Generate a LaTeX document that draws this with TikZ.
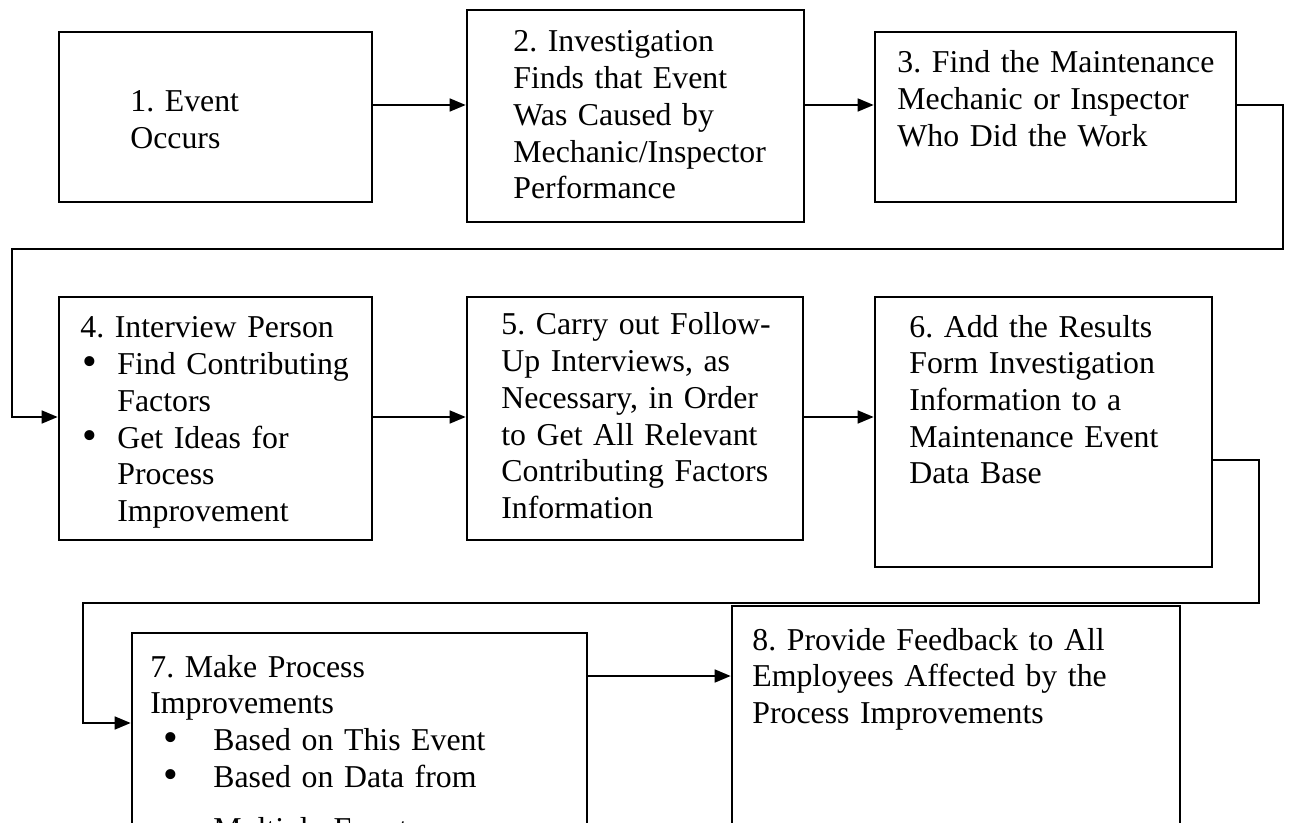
\documentclass[tikz,border=0pt]{standalone}
\usepackage{fontspec}
\setmainfont{Liberation Serif}
\usetikzlibrary{arrows.meta,fit}

\tikzset{
  box/.style={draw,line width=1.35pt,inner sep=0pt},
  txt/.style={anchor=base west,inner sep=0pt,align=left,text width=260pt,
              font=\fontsize{15.9}{18.35}\selectfont\frenchspacing},
  link/.style={line width=0.85pt,-{Triangle[length=8pt,width=6.5pt]}}
}
% bullet line (indent, bullet width) and its continuation
\newcommand{\bitem}[2]{\hspace*{#1}\makebox[#2][l]{\raisebox{-0.6pt}{\fontsize{21}{18}\selectfont\textbullet}}}
\newcommand{\bcont}[1]{\hspace*{#1}}

\begin{document}
\begin{tikzpicture}[x=0.5pt,y=-0.5pt]
  \useasboundingbox (0,0) rectangle (1289,823);
  % Row 1
  \node[box,fit={(59,32) (372,202)}] (b1) {};
  \node[txt] (t1) at (130,112) {1. Event\\Occurs};
  \node[box,fit={(467,10) (804,222)}] (b2) {};
  \node[txt] (t2) at (513,52) {2. Investigation\\Finds that Event\\Was Caused by\\Mechanic/Inspector\\Performance};
  \node[box,fit={(875,32) (1236,202)}] (b3) {};
  \node[txt] (t3) at (897,73) {3. Find the Maintenance\\Mechanic or Inspector\\Who Did the Work};
  % Row 2
  \node[box,fit={(59,297) (372,540)}] (b4) {};
  \node[txt] (t4) at (80,338) {4. Interview Person\\
    \bitem{1pt}{17.5pt}Find Contributing\\ \bcont{18.5pt}Factors\\
    \bitem{1pt}{17.5pt}Get Ideas for\\ \bcont{18.5pt}Process\\ \bcont{18.5pt}Improvement};
  \node[box,fit={(467,297) (803,540)}] (b5) {};
  \node[txt] (t5) at (501,335) {5. Carry out Follow-\\Up Interviews, as\\Necessary, in Order\\to Get All Relevant\\Contributing Factors\\Information};
  \node[box,fit={(875,297) (1212,567)}] (b6) {};
  \node[txt] (t6) at (909,337) {6. Add the Results\\Form Investigation\\Information to a\\Maintenance Event\\Data Base};
  % Row 3
  \node[box,fit={(132,633) (587,860)}] (b7) {};
  \node[txt] (t7) at (150,677) {7. Make Process\\Improvements\\
    \bitem{6.5pt}{25pt}Based on This Event\\
    \bitem{6.5pt}{25pt}Based on Data from\\[8pt] \bcont{31.5pt}Multiple Events};
  \node[box,fit={(732,606) (1180,860)}] (b8) {};
  \node[txt] (t8) at (752,650) {8. Provide Feedback to All\\Employees Affected by the\\Process Improvements};
  % links
  \coordinate (r1) at (0,105);
  \coordinate (r2) at (0,417);
  \coordinate (r3) at (0,676);
  \coordinate (c1) at (1283,249);
  \coordinate (c2) at (12,249);
  \coordinate (c3) at (1259,603);
  \coordinate (c4) at (83,603);
  \coordinate (e6) at (0,460);
  \coordinate (e7) at (0,723);
  \draw[link] (b1.east |- r1) -- (b2.west |- r1);
  \draw[link] (b2.east |- r1) -- (b3.west |- r1);
  \draw[link] (b3.east |- r1) -| (c1) -- (c2) |- (b4.west |- r2);
  \draw[link] (b4.east |- r2) -- (b5.west |- r2);
  \draw[link] (b5.east |- r2) -- (b6.west |- r2);
  \draw[link] (b6.east |- e6) -| (c3) -- (c4) |- (b7.west |- e7);
  \draw[link] (b7.east |- r3) -- (b8.west |- r3);
\end{tikzpicture}
\end{document}
